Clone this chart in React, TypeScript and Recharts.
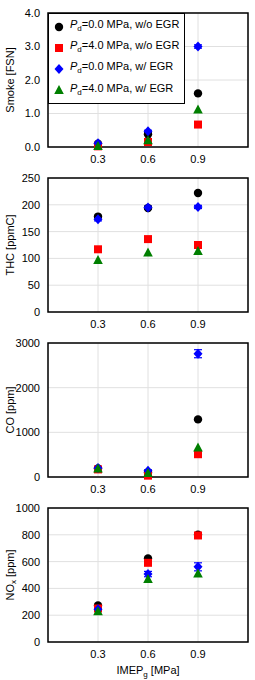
import React from "react";
import {
  ScatterChart,
  Scatter,
  XAxis,
  YAxis,
  CartesianGrid,
  ReferenceArea,
  ErrorBar,
  Legend,
} from "recharts";

// IMEP_g operating points [MPa]
const imep = [0.3, 0.6, 0.9];
const xTicks = [0.3, 0.6, 0.9];

// Smoke [FSN]
const smokeP0NoEgr = [0.1, 0.38, 1.6];
const smokeP4NoEgr = [0.02, 0.15, 0.67];
const smokeP0Egr = [0.11, 0.47, 3.0];
const smokeP4Egr = [0.03, 0.2, 1.12];
const smokeErr = [0.02, 0.03, 0.05];
const smokeTicks = [0, 1, 2, 3, 4];

// THC [ppmC]
const thcP0NoEgr = [178, 194, 222];
const thcP4NoEgr = [117, 136, 125];
const thcP0Egr = [173, 195, 196];
const thcP4Egr = [97, 111, 114];
const thcErr = [3, 3, 3];
const thcTicks = [0, 50, 100, 150, 200, 250];

// CO [ppm]
const coP0NoEgr = [190, 100, 1290];
const coP4NoEgr = [170, 30, 510];
const coP0Egr = [200, 140, 2760];
const coP4Egr = [190, 90, 660];
const coErr = [15, 20, 90];
const coTicks = [0, 1000, 2000, 3000];

// NOx [ppm]
const noxP0NoEgr = [272, 623, 800];
const noxP4NoEgr = [250, 591, 795];
const noxP0Egr = [245, 507, 561];
const noxP4Egr = [229, 470, 512];
const noxErr = [10, 20, 30];
const noxTicks = [0, 200, 400, 600, 800, 1000];

const seriesNames = [
  { pd: "0.0", egr: "w/o EGR" },
  { pd: "4.0", egr: "w/o EGR" },
  { pd: "0.0", egr: "w/ EGR" },
  { pd: "4.0", egr: "w/ EGR" },
];

const BLACK = "#000000";
const RED = "#ff0000";
const BLUE = "#0000ff";
const GREEN = "#007f00";
const FONT = "'Liberation Sans', Arial, sans-serif";

const toPoints = (vals: number[], errs?: number[]) =>
  imep.map((x, i) => ({ x, y: vals[i], err: errs ? errs[i] : 0 }));

const CircleMark = (p: any) => <circle cx={p.cx} cy={p.cy} r={4.2} fill={BLACK} />;
const SquareMark = (p: any) => (
  <rect x={p.cx - 4} y={p.cy - 4} width={8} height={8} fill={RED} />
);
const DiamondMark = (p: any) => (
  <polygon
    points={`${p.cx},${p.cy - 5} ${p.cx + 4.5},${p.cy} ${p.cx},${p.cy + 5} ${p.cx - 4.5},${p.cy}`}
    fill={BLUE}
  />
);
const TriangleMark = (p: any) => (
  <polygon
    points={`${p.cx},${p.cy - 5} ${p.cx + 4.8},${p.cy + 4} ${p.cx - 4.8},${p.cy + 4}`}
    fill={GREEN}
  />
);
const markers = [CircleMark, SquareMark, DiamondMark, TriangleMark];

const LegendBox = () => (
  <div
    style={{
      border: "1.5px solid #000",
      background: "#fff",
      padding: "2px 5px 2px 4px",
      fontFamily: FONT,
      fontSize: 11,
      lineHeight: "16px",
      color: "#000",
      whiteSpace: "nowrap",
    }}
  >
    {seriesNames.map((s, i) => {
      const M = markers[i];
      return (
        <div key={i} style={{ display: "flex", alignItems: "center" }}>
          <svg width={14} height={12} style={{ marginRight: 3 }}>
            <M cx={6} cy={6} />
          </svg>
          <span>
            <i>P</i>
            <sub style={{ fontSize: 8 }}>d</sub>={s.pd} MPa, {s.egr}
          </span>
        </div>
      );
    })}
  </div>
);

const YTitle = (props: any) => {
  const vb = props.viewBox || { x: 0, y: 0, width: 0, height: 0 };
  const cy = vb.y + vb.height / 2;
  const cx = 10;
  return (
    <text
      x={cx}
      y={cy}
      transform={`rotate(-90 ${cx} ${cy})`}
      textAnchor="middle"
      dominantBaseline="central"
      fontFamily={FONT}
      fontSize={11}
      fill="#000"
    >
      {props.main}
      {props.sub ? (
        <tspan fontSize={8} dy={3}>
          {props.sub}
        </tspan>
      ) : null}
      {props.sub ? <tspan dy={-3}>{props.rest}</tspan> : null}
    </text>
  );
};

const XTitle = (props: any) => {
  const vb = props.viewBox || { x: 0, y: 0, width: 0, height: 0 };
  const cx = vb.x + vb.width / 2;
  const cy = vb.y + 32;
  return (
    <text x={cx} y={cy} textAnchor="middle" fontFamily={FONT} fontSize={11} fill="#000">
      IMEP
      <tspan fontSize={8} dy={3}>
        g
      </tspan>
      <tspan dy={-3}> [MPa]</tspan>
    </text>
  );
};

type PanelProps = {
  height: number;
  series: number[][];
  errs: number[];
  yMax: number;
  yTicks: number[];
  decimals: number;
  title: { main: string; sub?: string; rest?: string };
  legend?: boolean;
  xTitle?: boolean;
};

const Panel = ({ height, series, errs, yMax, yTicks, decimals, title, legend, xTitle }: PanelProps) => {
  const colors = [BLACK, RED, BLUE, GREEN];
  return (
    <ScatterChart
      width={255}
      height={height}
      margin={{ top: 13, right: 7, left: 0, bottom: 0 }}
    >
      <CartesianGrid stroke="#e0e0e0" strokeWidth={1} />
      <XAxis
        type="number"
        dataKey="x"
        domain={[0, 1.2]}
        ticks={xTicks}
        tickFormatter={(v: number) => v.toFixed(1)}
        axisLine={false}
        tickLine={false}
        height={xTitle ? 38 : 18}
        tick={{ fontFamily: FONT, fontSize: 11, fill: "#000" }}
        label={xTitle ? <XTitle /> : undefined}
      />
      <YAxis
        type="number"
        dataKey="y"
        domain={[0, yMax]}
        ticks={yTicks}
        tickFormatter={(v: number) => v.toFixed(decimals)}
        axisLine={false}
        tickLine={false}
        width={48}
        tick={{ fontFamily: FONT, fontSize: 11, fill: "#000" }}
        label={<YTitle main={title.main} sub={title.sub} rest={title.rest} />}
      />
      <ReferenceArea
        x1={0}
        x2={1.2}
        y1={0}
        y2={yMax}
        fill="none"
        fillOpacity={0}
        stroke="#000"
        strokeWidth={1.5}
      />
      {series.map((vals, i) => (
        <Scatter
          key={i}
          name={`s${i}`}
          data={toPoints(vals, i === 2 ? errs : undefined)}
          fill={colors[i]}
          shape={markers[i]}
          isAnimationActive={false}
        >
          {i === 2 ? (
            <ErrorBar dataKey="err" direction="y" width={4} stroke={BLUE} strokeWidth={1.2} />
          ) : null}
        </Scatter>
      ))}
      {legend ? (
        <Legend
          layout="vertical"
          align="center"
          verticalAlign="middle"
          content={<LegendBox />}
          wrapperStyle={{ top: 13, left: 48, width: "auto" }}
        />
      ) : null}
    </ScatterChart>
  );
};

export default function App() {
  return (
    <div style={{ position: "absolute", left: 0, top: 0, width: 255, height: 680, background: "#fff" }}>
      <Panel
        height={165}
        series={[smokeP0NoEgr, smokeP4NoEgr, smokeP0Egr, smokeP4Egr]}
        errs={smokeErr}
        yMax={4}
        yTicks={smokeTicks}
        decimals={1}
        title={{ main: "Smoke [FSN]" }}
        legend
      />
      <Panel
        height={165}
        series={[thcP0NoEgr, thcP4NoEgr, thcP0Egr, thcP4Egr]}
        errs={thcErr}
        yMax={250}
        yTicks={thcTicks}
        decimals={0}
        title={{ main: "THC [ppmC]" }}
      />
      <Panel
        height={165}
        series={[coP0NoEgr, coP4NoEgr, coP0Egr, coP4Egr]}
        errs={coErr}
        yMax={3000}
        yTicks={coTicks}
        decimals={0}
        title={{ main: "CO [ppm]" }}
      />
      <Panel
        height={185}
        series={[noxP0NoEgr, noxP4NoEgr, noxP0Egr, noxP4Egr]}
        errs={noxErr}
        yMax={1000}
        yTicks={noxTicks}
        decimals={0}
        title={{ main: "NO", sub: "x", rest: " [ppm]" }}
        xTitle
      />
    </div>
  );
}
